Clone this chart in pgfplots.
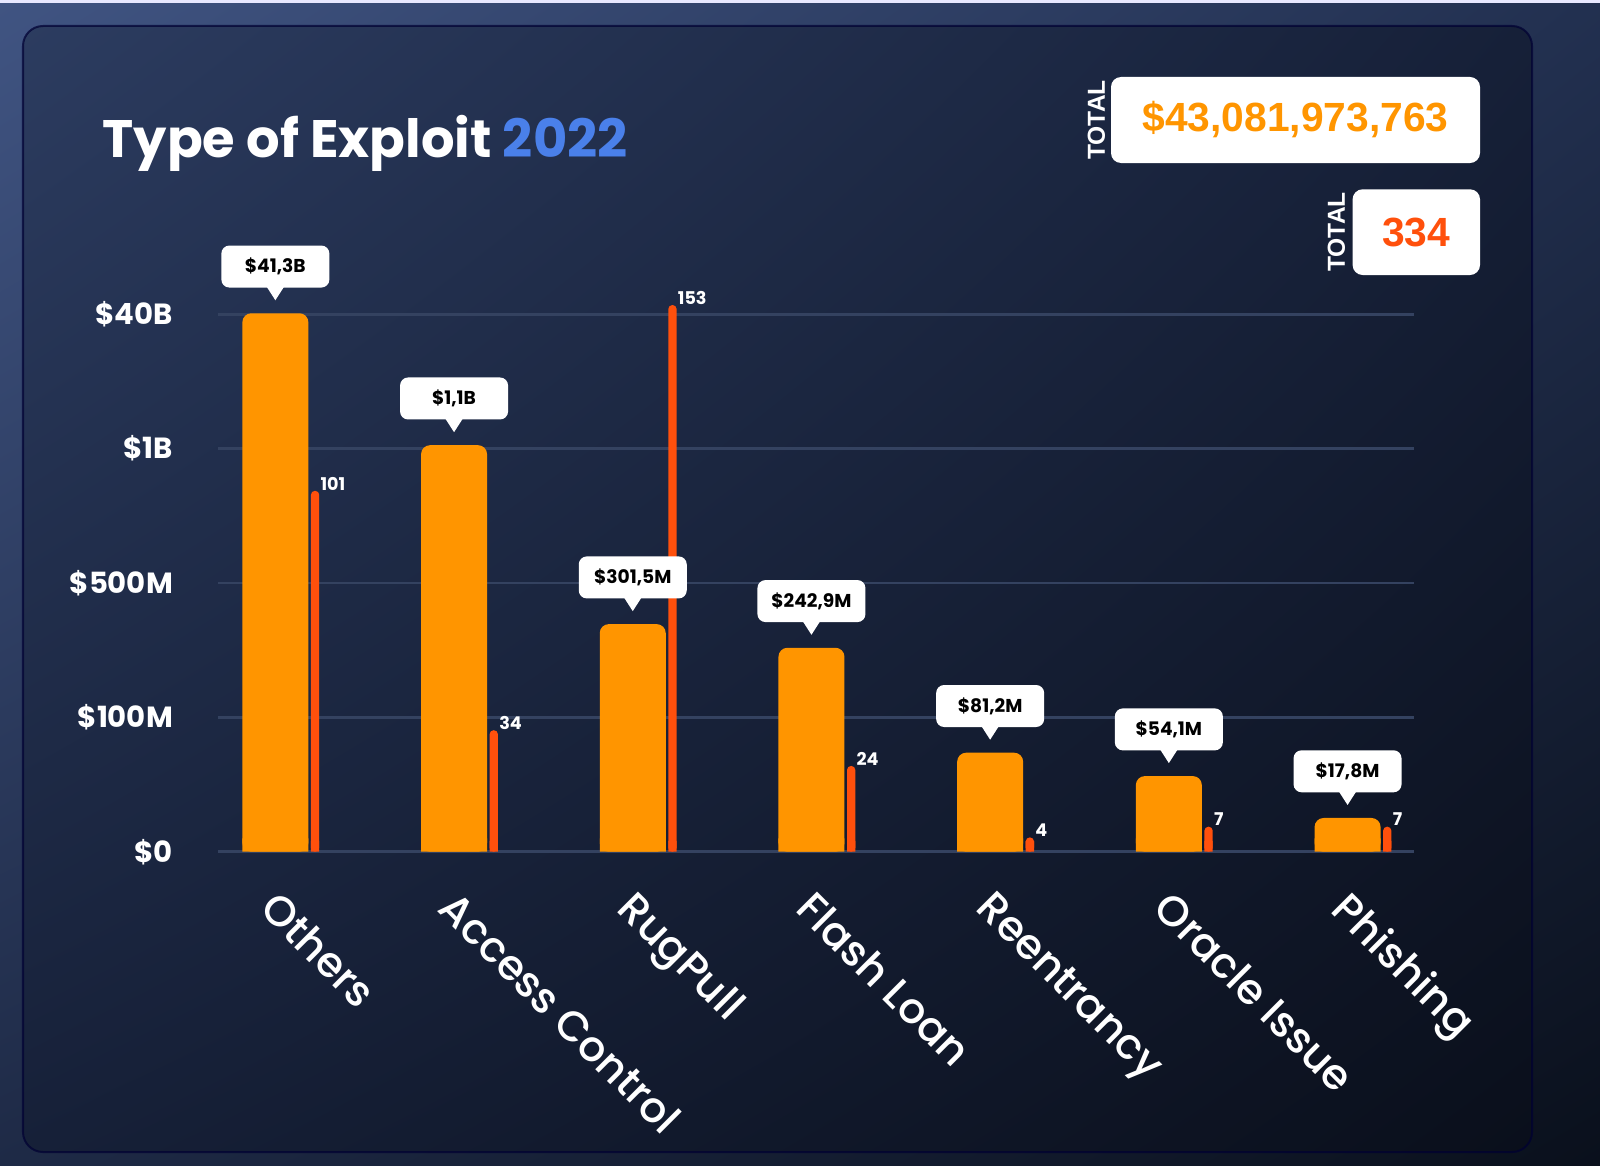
\documentclass[border=0pt]{standalone}
\usepackage{fontspec}
\setmainfont{Poppins}
\newfontfamily\popmed{Poppins Medium}
\newfontfamily\arialf{Liberation Sans}
\usepackage{pgfplots}
\usepackage{pgfplotstable}
\pgfplotsset{compat=1.18}
\usetikzlibrary{shadings}

\definecolor{outerUL}{RGB}{64,84,130}
\definecolor{outerUR}{RGB}{34,48,80}
\definecolor{outerLL}{RGB}{30,42,70}
\definecolor{outerLR}{RGB}{10,16,28}
\definecolor{panUL}{RGB}{44,60,96}
\definecolor{panUR}{RGB}{22,32,56}
\definecolor{panLL}{RGB}{22,32,56}
\definecolor{panLR}{RGB}{10,15,27}
\definecolor{barorange}{RGB}{255,149,0}
\definecolor{barred}{RGB}{255,80,12}
\definecolor{gridc}{RGB}{52,66,96}
\definecolor{titleblue}{RGB}{74,128,234}

% pos = bar height on the chart's stepped scale
% (0=$0, 1=$100M, 2=$500M, 3=$1B, 4=$40B), count = number of exploits
\pgfplotstableread{
x  pos    count  label
0  4.008  101    {\$41,3B}
1  3.026  34     {\$1,1B}
2  1.694  153    {\$301,5M}
3  1.518  24     {\$242,9M}
4  0.737  4      {\$81,2M}
5  0.563  7      {\$54,1M}
6  0.251  7      {\$17,8M}
}\exploits

\pgfplotsset{frame/.style={
  scale only axis, width=11.96cm, height=5.374cm,
  at={(2.18cm,3.133cm)}, anchor=south west,
  xmin=-0.321, xmax=6.372, ymin=0,
  axis line style={draw=none}, tick style={draw=none},
  clip=false,
}}

\begin{document}
\begin{tikzpicture}
% background
\shade[upper left=outerUL, upper right=outerUR, lower left=outerLL, lower right=outerLR]
  (0,0) rectangle (16,11.65);
\fill[white!85!blue!60] (0,11.62) rectangle (16,11.65);
\shade[upper left=panUL, upper right=panUR, lower left=panLL, lower right=panLR,
  rounded corners=0.2cm] (0.23,0.13) rectangle (15.32,11.39);
\draw[black!80!blue, opacity=0.7, line width=0.02cm, rounded corners=0.2cm]
  (0.23,0.13) rectangle (15.32,11.39);

% title
\node[anchor=base west, inner sep=0, text=white, font=\bfseries\fontsize{15}{18}\selectfont]
  at (1.02,10.08) {Type of Exploit \textcolor{titleblue}{2022}};

% totals
\fill[white, rounded corners=0.1cm] (11.11,10.02) rectangle (14.80,10.88);
\node[text=barorange, font=\arialf\bfseries\fontsize{11.6}{13}\selectfont]
  at (12.955,10.45) {\$43,081,973,763};
\node[rotate=90, text=white, font=\arialf\bfseries\fontsize{7}{8}\selectfont] at (10.965,10.45) {TOTAL};
\fill[white, rounded corners=0.1cm] (13.526,8.90) rectangle (14.80,9.757);
\node[text=barred, font=\arialf\bfseries\fontsize{11.6}{13}\selectfont]
  at (14.163,9.33) {334};
\node[rotate=90, text=white, font=\arialf\bfseries\fontsize{7}{8}\selectfont] at (13.365,9.33) {TOTAL};

% counts (drawn first, with the grid, so the callouts sit on top)
\begin{axis}[frame, ymax=150.4,
  xtick=\empty,
  ytick={0,37.6,75.2,112.8,150.4}, yticklabels={},
  ymajorgrids, major grid style={draw=gridc, line width=0.025cm},
]
\addplot[ybar, bar width=0.083cm, bar shift=0.397cm, fill=barred, draw=none,
  rounded corners=0.04cm,
  point meta=explicit symbolic,
  nodes near coords,
  nodes near coords style={anchor=south west, inner sep=0, xshift=0.445cm, text=white,
    font=\bfseries\fontsize{5}{6}\selectfont},
] table[x=x, y=count, meta=count] {\exploits};
\addplot[ybar, bar width=0.083cm, bar shift=0.397cm, fill=barred, draw=none]
  table[x=x, y expr={min(\thisrow{count},3)}] {\exploits};
\end{axis}

% amounts
\begin{axis}[frame, ymax=4,
  ytick={0,1,2,3,4},
  yticklabels={\$0,\$100M,\$500M,\$1B,\$40B},
  yticklabel style={anchor=east, inner sep=0, xshift=-0.445cm, text=white,
    font=\bfseries\fontsize{8.3}{9}\selectfont},
  xtick={0,...,6},
  xticklabels={Others,Access Control,RugPull,Flash Loan,Reentrancy,Oracle Issue,Phishing},
  xticklabel style={xshift=0.05cm, yshift=-0.36cm, rotate=-45, anchor=north west,
    inner sep=0, text=white, font=\popmed\fontsize{12}{15}\selectfont},
]
\addplot[ybar, bar width=0.66cm, bar shift=0cm, fill=barorange, draw=none,
  rounded corners=0.09cm,
  point meta=explicit symbolic,
  nodes near coords,
  nodes near coords style={anchor=south, yshift=0.25cm, fill=white, text=black,
    rounded corners=0.08cm, minimum width=1.08cm, minimum height=0.42cm, inner sep=0,
    font=\bfseries\fontsize{5.3}{6}\selectfont,
    append after command={\pgfextra{\fill[white, sharp corners]
      ([xshift=-0.09cm,yshift=0.02cm]\tikzlastnode.south)
      -- ([xshift=0.09cm,yshift=0.02cm]\tikzlastnode.south)
      -- ([yshift=-0.12cm]\tikzlastnode.south) -- cycle;}}},
] table[x=x, y=pos, meta=label] {\exploits};
\addplot[ybar, bar width=0.66cm, bar shift=0cm, fill=barorange, draw=none]
  table[x=x, y expr={min(\thisrow{pos},0.1)}] {\exploits};
\end{axis}
\end{tikzpicture}
\end{document}
